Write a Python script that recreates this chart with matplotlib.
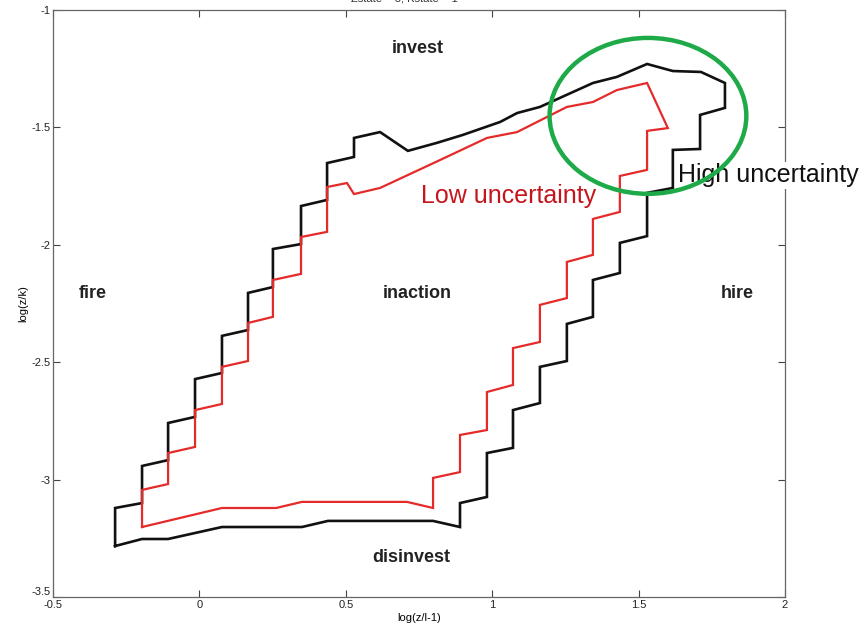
import matplotlib
matplotlib.use("Agg")
from matplotlib import pyplot as plt
from matplotlib.patches import Ellipse

plt.rcParams['font.family'] = ['Liberation Sans', 'DejaVu Sans']

# outer (high uncertainty) inaction boundary, traced as a closed loop
high_x = [-0.288, -0.288, -0.196, -0.196, -0.107, -0.107, -0.015, -0.015, 0.077, 0.077,
          0.166, 0.166, 0.251, 0.251, 0.347, 0.347, 0.436, 0.436, 0.528, 0.528,
          0.617, 0.712, 0.811, 0.900, 1.027, 1.085, 1.163, 1.344, 1.426, 1.529,
          1.617, 1.713, 1.795, 1.795, 1.710, 1.710, 1.617, 1.617, 1.529, 1.529,
          1.436, 1.436, 1.344, 1.344, 1.255, 1.255, 1.163, 1.163, 1.071, 1.071,
          0.982, 0.982, 0.890, 0.890, 0.798, 0.439, 0.350, 0.077, -0.107, -0.196, -0.288]
high_y = [-3.283, -3.121, -3.100, -2.942, -2.917, -2.759, -2.733, -2.572, -2.546, -2.388,
          -2.363, -2.205, -2.180, -2.018, -1.997, -1.835, -1.809, -1.652, -1.626, -1.545,
          -1.520, -1.600, -1.566, -1.532, -1.477, -1.439, -1.413, -1.311, -1.285, -1.230,
          -1.260, -1.264, -1.311, -1.417, -1.447, -1.592, -1.596, -1.758, -1.779, -1.963,
          -1.992, -2.120, -2.150, -2.307, -2.337, -2.495, -2.520, -2.674, -2.704, -2.865,
          -2.887, -3.074, -3.100, -3.202, -3.176, -3.176, -3.202, -3.202, -3.253, -3.253, -3.283]

# inner (low uncertainty) boundary
low_x = [-0.196, -0.196, -0.107, -0.107, -0.015, -0.015, 0.077, 0.077, 0.166, 0.166,
         0.251, 0.251, 0.347, 0.347, 0.436, 0.436, 0.504, 0.528, 0.617, 0.822,
         0.982, 1.085, 1.255, 1.344, 1.426, 1.529, 1.600, 1.529, 1.529, 1.436,
         1.436, 1.344, 1.344, 1.255, 1.255, 1.163, 1.163, 1.071, 1.071, 0.982,
         0.982, 0.890, 0.890, 0.798, 0.798, 0.709, 0.350, 0.262, 0.077, -0.196]
low_y = [-3.202, -3.044, -3.019, -2.887, -2.861, -2.704, -2.678, -2.520, -2.495, -2.333,
         -2.307, -2.150, -2.124, -1.967, -1.945, -1.754, -1.737, -1.784, -1.758, -1.639,
         -1.545, -1.520, -1.413, -1.392, -1.341, -1.311, -1.503, -1.515, -1.681, -1.707,
         -1.860, -1.890, -2.043, -2.073, -2.227, -2.256, -2.414, -2.440, -2.597, -2.627,
         -2.789, -2.810, -2.968, -2.993, -3.121, -3.095, -3.095, -3.121, -3.121, -3.202]

x_ticks = [-0.5, 0, 0.5, 1, 1.5, 2]
y_ticks = [-3.5, -3, -2.5, -2, -1.5, -1]
x_ticklabels = ['-0.5', '0', '0.5', '1', '1.5', '2']
y_ticklabels = ['-3.5', '-3', '-2.5', '-2', '-1.5', '-1']

region_names = ['invest', 'fire', 'inaction', 'hire', 'disinvest']
region_x = [0.747, -0.363, 0.743, 1.836, 0.723]
region_y = [-1.165, -2.209, -2.209, -2.209, -3.333]

fig = plt.figure(figsize=(8.61, 6.31), dpi=100)
ax = fig.add_axes([0.0616, 0.0539, 0.8501, 0.9303])

ax.plot(high_x, high_y, color='#111111', lw=1.9, solid_joinstyle='miter')
ax.plot(low_x, low_y, color='#e52a2a', lw=1.6, solid_joinstyle='miter')

# circle around the high-uncertainty corner
ax.add_patch(Ellipse((1.532, -1.451), 0.672, 0.664, fill=False,
                     edgecolor='#1faa4a', lw=3.2, zorder=6, clip_on=False))

for name, tx, ty in zip(region_names, region_x, region_y):
    ax.text(tx, ty, name, ha='center', va='center', fontsize=13,
            fontweight='bold', color='#222222')

ax.text(0.757, -1.792, 'Low uncertainty', color='#c4161c', fontsize=18,
        ha='left', va='center')
ax.text(1.636, -1.703, 'High uncertainty', color='#111111', fontsize=18,
        ha='left', va='center', zorder=5, clip_on=False,
        bbox=dict(facecolor='white', edgecolor='none', pad=1))

ax.set_xlim(-0.5, 2)
ax.set_ylim(-3.5, -1)
ax.set_xticks(x_ticks)
ax.set_xticklabels(x_ticklabels)
ax.set_yticks(y_ticks)
ax.set_yticklabels(y_ticklabels)
ax.tick_params(direction='in', length=5, width=0.8, labelsize=8,
               top=True, right=True, pad=2, colors='#444444', labelcolor='#222222')
# lift the bottom y label a little so it clears the first x label
ax.get_yticklabels()[0].set_verticalalignment('bottom')
for s in ax.spines.values():
    s.set_color('#666666')
    s.set_linewidth(0.9)

ax.set_xlabel('log(z/l-1)', fontsize=8, labelpad=2)
ax.set_ylabel('log(z/k)', fontsize=8, labelpad=2)

# title sits mostly above the top edge of the canvas
fig.text(0.47, 0.994, 'Zstate = 3, Kstate = 1', ha='center', va='bottom',
         fontsize=8, color='#333333')

fig.savefig('out.png', dpi=100)
